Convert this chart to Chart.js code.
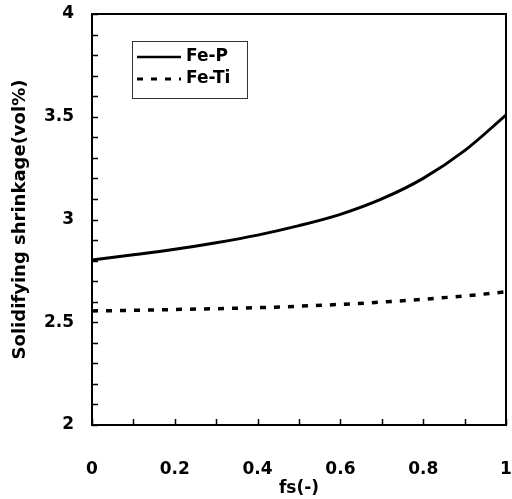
<!DOCTYPE html>
<html>
<head>
<meta charset="utf-8">
<script src="https://cdn.jsdelivr.net/npm/chart.js@4/dist/chart.umd.min.js"></script>
<style>
  html, body { margin: 0; padding: 0; background: #fff; }
  #wrap { width: 512px; height: 499px; position: relative; }
</style>
</head>
<body>
<div id="wrap"><canvas id="chart-shrinkage"></canvas></div>
<script>
// ─── DATA ────────────────────────────────────────────────────
const fsValues = [0, 0.1, 0.2, 0.3, 0.4, 0.5, 0.6, 0.7, 0.8, 0.9, 1.0];
const feP  = [2.803, 2.828, 2.855, 2.887, 2.924, 2.970, 3.025, 3.100, 3.200, 3.335, 3.508];
const feTi = [2.555, 2.558, 2.562, 2.566, 2.571, 2.578, 2.587, 2.598, 2.612, 2.628, 2.648];
const yLabelTicks = [2, 2.5, 3, 3.5, 4];
const xLabelTicks = [0, 0.2, 0.4, 0.6, 0.8, 1];

const FONT = "'DejaVu Sans', sans-serif";

// drop the label-overflow padding so the plot box sits where the figure has it
function noPad(s) {
  s.paddingLeft = 0; s.paddingRight = 0; s.paddingTop = 0; s.paddingBottom = 0;
}

// inward minor ticks, frame and the boxed legend
const framePlugin = {
  id: 'frame',
  afterDraw(chart) {
    const { ctx, chartArea: a, scales: { x, y } } = chart;
    ctx.save();
    ctx.strokeStyle = '#000';
    ctx.lineWidth = 1.5;
    ctx.beginPath();
    for (let i = 0; i <= 20; i++) {
      const py = Math.round(y.getPixelForValue(2 + i * 0.1)) + 0.5;
      ctx.moveTo(a.left, py);
      ctx.lineTo(a.left + 6, py);
    }
    for (let i = 0; i <= 10; i++) {
      const px = Math.round(x.getPixelForValue(i * 0.1)) + 0.5;
      ctx.moveTo(px, a.bottom);
      ctx.lineTo(px, a.bottom - 6);
    }
    ctx.stroke();
    ctx.lineWidth = 2;
    ctx.strokeRect(a.left, a.top, a.right - a.left, a.bottom - a.top);

    // legend box
    ctx.lineWidth = 1;
    ctx.strokeStyle = '#333';
    ctx.strokeRect(132.5, 41.5, 115, 57);
    ctx.strokeStyle = '#000';
    ctx.lineWidth = 2.5;
    ctx.beginPath();
    ctx.moveTo(137, 57); ctx.lineTo(181, 57);
    ctx.stroke();
    ctx.setLineDash([6, 8]);
    ctx.lineWidth = 3;
    ctx.beginPath();
    ctx.moveTo(137, 79); ctx.lineTo(181, 79);
    ctx.stroke();
    ctx.setLineDash([]);
    ctx.fillStyle = '#000';
    ctx.font = "bold 17px " + FONT;
    ctx.textBaseline = 'middle';
    ctx.fillText('Fe-P', 186, 57);
    ctx.fillText('Fe-Ti', 186, 79);
    ctx.restore();
  }
};

new Chart(document.getElementById('chart-shrinkage'), {
  type: 'line',
  data: {
    labels: fsValues,
    datasets: [
      {
        label: 'Fe-P',
        data: fsValues.map((v, i) => ({ x: v, y: feP[i] })),
        borderColor: '#000',
        borderWidth: 3,
        pointRadius: 0,
        cubicInterpolationMode: 'monotone',
        fill: false,
      },
      {
        label: 'Fe-Ti',
        data: fsValues.map((v, i) => ({ x: v, y: feTi[i] })),
        borderColor: '#000',
        borderWidth: 3.5,
        borderDash: [6, 8],
        pointRadius: 0,
        cubicInterpolationMode: 'monotone',
        fill: false,
      }
    ]
  },
  options: {
    responsive: true,
    maintainAspectRatio: false,
    animation: false,
    layout: { padding: { top: 14, right: 6, left: 0, bottom: 0 } },
    plugins: { legend: { display: false }, tooltip: { enabled: false } },
    scales: {
      x: {
        type: 'linear',
        min: 0,
        max: 1,
        afterBuildTicks: s => { s.ticks = xLabelTicks.map(v => ({ value: v })); },
        afterFit: s => { s.height = 74; noPad(s); },
        grid: { display: false, drawTicks: false },
        border: { display: false },
        ticks: {
          color: '#000',
          padding: 34,
          maxRotation: 0,
          font: { family: FONT, size: 17, weight: 'bold' },
          callback: v => String(v),
        },
        title: {
          display: true,
          text: 'fs(-)',
          color: '#000',
          padding: { top: 2, bottom: 0 },
          font: { family: FONT, size: 17, weight: 'bold' },
        }
      },
      y: {
        min: 2,
        max: 4,
        afterBuildTicks: s => { s.ticks = yLabelTicks.map(v => ({ value: v })); },
        afterFit: s => { s.width = 92; noPad(s); },
        grid: { display: false, drawTicks: false },
        border: { display: false },
        ticks: {
          color: '#000',
          padding: 18,
          font: { family: FONT, size: 17, weight: 'bold' },
          callback: v => String(v),
        },
        title: {
          display: true,
          text: 'Solidifying shrinkage(vol%)',
          color: '#000',
          padding: { top: 10, bottom: 0 },
          font: { family: FONT, size: 18, weight: 'bold' },
        }
      }
    }
  },
  plugins: [framePlugin]
});
</script>
</body>
</html>
